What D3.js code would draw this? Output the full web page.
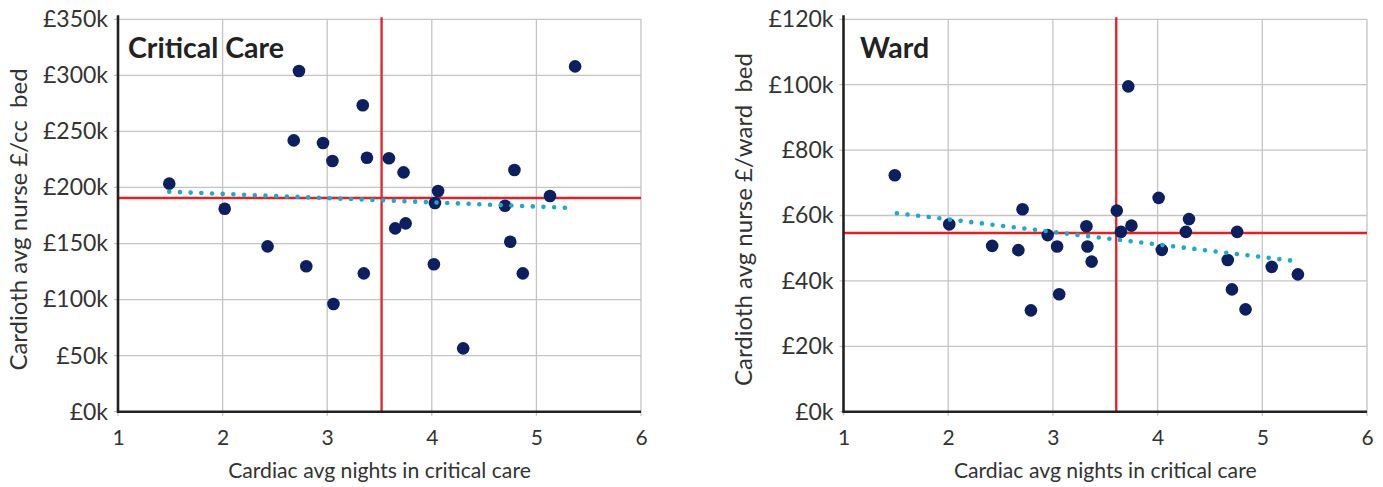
<!DOCTYPE html>
<html>
<head>
<meta charset="utf-8">
<script src="https://cdn.jsdelivr.net/npm/d3@7"></script>
<style>
  html, body { margin: 0; padding: 0; background: #fff; }
  svg { display: block; font-family: Lato, "Open Sans", sans-serif; }
</style>
</head>
<body>
<svg id="chart" width="1383" height="487"></svg>
<script>
// ---- Data ----
const xTicks = [1, 2, 3, 4, 5, 6];
const xTitle = "Cardiac avg nights in critical care";

// Critical Care panel
const ccTitle = "Critical Care";
const ccYLabel = "Cardioth avg nurse £/cc\u00a0 bed";
const ccYTicks = [0, 50, 100, 150, 200, 250, 300, 350];
const ccX = [1.49, 2.02, 2.73, 2.68, 2.96, 3.05, 3.34, 3.38, 5.37, 3.59, 3.73, 4.06, 4.03, 4.79, 4.70, 5.13,
             2.43, 2.80, 3.35, 3.06, 3.65, 3.75, 4.02, 4.75, 4.87, 4.30];
const ccY = [203.4, 181, 303.9, 242, 239.7, 223.6, 273.3, 226.5, 308, 226, 213.5, 196.8, 186.1, 215.6, 183.7, 192.4,
             147.5, 129.7, 123.4, 96, 163.5, 168, 131.5, 151.6, 123.4, 56.5];
const ccRefX = 3.52;
const ccRefY = 190.6;
const ccTrendX = [1.49, 5.34];
const ccTrendY = [196.2, 181.7];

// Ward panel
const wardTitle = "Ward";
const wardYLabel = "Cardioth avg nurse £/ward\u00a0 bed";
const wardYTicks = [0, 20, 40, 60, 80, 100, 120];
const wardX = [1.49, 2.71, 3.72, 4.01, 3.61, 4.30, 2.01, 2.42, 2.67, 2.95, 3.04, 3.32, 3.33, 3.37, 3.06, 2.79,
               3.65, 3.75, 4.27, 4.76, 4.04, 4.67, 5.09, 5.34, 4.71, 4.84];
const wardY = [72.3, 61.9, 99.5, 65.4, 61.5, 58.9, 57.3, 50.7, 49.4, 54.0, 50.5, 56.7, 50.5, 45.9, 35.9, 31.0,
               55.0, 56.9, 55.0, 55.0, 49.5, 46.4, 44.3, 42.0, 37.4, 31.3];
const wardRefX = 3.605;
const wardRefY = 54.65;
const wardTrendX = [1.51, 5.31];
const wardTrendY = [60.7, 46.1];

// ---- Drawing ----
const svg = d3.select("#chart");
const plotTop = 19.3, plotBottom = 411.7;

function panel(o) {
  const g = svg.append("g");
  const x = d3.scaleLinear().domain([1, 6]).range([o.left, o.right]);
  const y = d3.scaleLinear().domain([0, d3.max(o.yTicks)]).range([plotBottom, plotTop]);

  // gridlines
  g.append("g").selectAll("line").data(o.yTicks).join("line")
    .attr("x1", o.left - 4).attr("x2", o.right)
    .attr("y1", d => y(d)).attr("y2", d => y(d))
    .attr("stroke", "#c4c4c4").attr("stroke-width", 1.3);
  g.append("g").selectAll("line").data(xTicks).join("line")
    .attr("x1", d => x(d)).attr("x2", d => x(d))
    .attr("y1", plotTop).attr("y2", plotBottom + 4)
    .attr("stroke", "#c4c4c4").attr("stroke-width", 1.3);

  // axes (labels via d3 axes)
  const yAxis = d3.axisLeft(y).tickValues(o.yTicks).tickSize(0).tickPadding(10)
    .tickFormat(d => "£" + d + "k");
  const ya = g.append("g").attr("transform", `translate(${o.left},0)`).call(yAxis);
  ya.select(".domain").remove();
  ya.selectAll("text").attr("font-size", 23).attr("fill", "#333").attr("font-family", "Lato");

  const xAxis = d3.axisBottom(x).tickValues(xTicks).tickSize(0).tickPadding(18).tickFormat(d3.format("d"));
  const xa = g.append("g").attr("transform", `translate(0,${plotBottom})`).call(xAxis);
  xa.select(".domain").remove();
  xa.selectAll("text").attr("font-size", 21).attr("fill", "#333").attr("font-family", "Lato");

  // red reference lines
  g.append("line").attr("x1", o.left).attr("x2", o.right)
    .attr("y1", y(o.refY)).attr("y2", y(o.refY))
    .attr("stroke", "#ec1c24").attr("stroke-width", 2.3);
  g.append("line").attr("x1", x(o.refX)).attr("x2", x(o.refX))
    .attr("y1", plotTop - 2).attr("y2", plotBottom)
    .attr("stroke", "#ec1c24").attr("stroke-width", 2.3);

  // axis lines
  g.append("line").attr("x1", o.left).attr("x2", o.left).attr("y1", plotTop - 4).attr("y2", plotBottom + 1)
    .attr("stroke", "#222").attr("stroke-width", 2.6);
  g.append("line").attr("x1", o.left - 1).attr("x2", o.right).attr("y1", plotBottom).attr("y2", plotBottom)
    .attr("stroke", "#222").attr("stroke-width", 2.6);

  // points
  const pts = o.xs.map((v, i) => [v, o.ys[i]]);
  g.append("g").selectAll("circle").data(pts).join("circle")
    .attr("cx", d => x(d[0])).attr("cy", d => y(d[1])).attr("r", 6.3)
    .attr("fill", "#0c1f60");

  // dotted trend line
  const tr = o.trendX.map((v, i) => [v, o.trendY[i]]);
  g.append("path").datum(tr)
    .attr("d", d3.line().x(d => x(d[0])).y(d => y(d[1])))
    .attr("fill", "none").attr("stroke", "#17adc9").attr("stroke-width", 4.6)
    .attr("stroke-linecap", "round").attr("stroke-dasharray", "0 10.7");

  // title
  g.append("text").attr("x", o.titleX).attr("y", 58)
    .attr("font-size", 28.5).attr("font-weight", "bold").attr("fill", "#222")
    .attr("font-family", "Lato").text(o.title);

  // axis titles
  g.append("text").attr("x", (o.left + o.right) / 2).attr("y", 478)
    .attr("text-anchor", "middle").attr("font-size", 21.2).attr("fill", "#333")
    .attr("font-family", "Lato").text(xTitle);
  g.append("text")
    .attr("transform", `translate(${o.labelX},${(plotTop + plotBottom) / 2 + 4}) rotate(-90)`)
    .attr("text-anchor", "middle").attr("font-size", 24).attr("fill", "#333")
    .attr("font-family", "Lato").text(o.yLabel);
}

panel({left: 118, right: 641, yTicks: ccYTicks, xs: ccX, ys: ccY, refX: ccRefX, refY: ccRefY,
       trendX: ccTrendX, trendY: ccTrendY, title: ccTitle, titleX: 128, yLabel: ccYLabel, labelX: 27});
panel({left: 843.5, right: 1367, yTicks: wardYTicks, xs: wardX, ys: wardY, refX: wardRefX, refY: wardRefY,
       trendX: wardTrendX, trendY: wardTrendY, title: wardTitle, titleX: 860, yLabel: wardYLabel, labelX: 752});
</script>
</body>
</html>
